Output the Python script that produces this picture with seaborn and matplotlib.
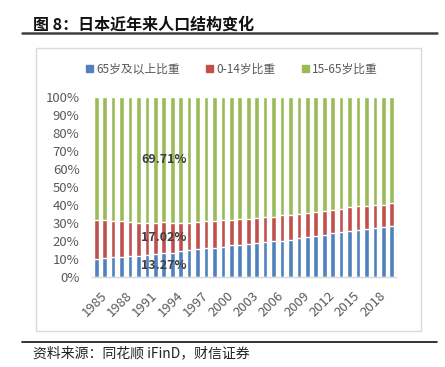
import numpy as np
import pandas as pd
import matplotlib
matplotlib.use("Agg")
import matplotlib.pyplot as plt
import matplotlib.transforms as mtransforms
import seaborn as sns
from matplotlib.patches import Patch
from matplotlib.lines import Line2D

# ------------------------------------------------------------
# Données
# ------------------------------------------------------------
years = list(range(1985, 2021))

# part des 65 ans et plus (%)
share_65 = [10.2, 10.3, 11.0, 11.0, 11.5, 11.6, 12.2, 13.0, 13.27, 13.5,
            14.3, 14.8, 15.6, 15.9, 16.0, 16.7, 17.6, 17.6, 18.1, 18.9,
            19.4, 20.0, 20.1, 20.7, 21.5, 22.0, 22.8, 23.5, 24.3, 24.8,
            25.6, 26.1, 26.7, 27.4, 27.6, 28.1]

# part des 0-14 ans (%)
share_0_14 = [21.3, 21.2, 19.9, 19.9, 18.9, 18.6, 18.0, 17.2, 17.02, 16.7,
              15.9, 15.4, 15.0, 15.0, 15.0, 14.8, 13.9, 14.4, 13.9, 13.9,
              14.1, 13.5, 14.2, 13.6, 13.3, 13.4, 13.3, 13.4, 13.1, 13.2,
              13.1, 13.3, 12.9, 12.8, 12.6, 12.8]

series_names = ["65岁及以上比重", "0-14岁比重", "15-65岁比重"]
colors = ["#4F81BD", "#C0504D", "#9BBB59"]

df = pd.DataFrame({"year": years, "s65": share_65, "s014": share_0_14})
df["s1565"] = 100 - df["s65"] - df["s014"]
df["cum_red"] = df["s65"] + df["s014"]
df["cum_all"] = 100.0

# ------------------------------------------------------------
# Figure
# ------------------------------------------------------------
sns.set_theme(style="white")
plt.rcParams["font.family"] = ["Noto Sans CJK SC", "DejaVu Sans"]

fig = plt.figure(figsize=(4.45, 3.67), dpi=100)
W, H = 445, 367

def fx(px):
    return px / W

def fy(py):
    return 1 - py / H

# titre + filets
fig.text(fx(33), fy(25), "图 8：日本近年来人口结构变化", fontsize=11.5,
         fontweight="bold", color="#111111", va="center", ha="left")
fig.add_artist(Line2D([fx(22), fx(437)], [fy(32.5), fy(32.5)], color="#404040", lw=1.8))
fig.add_artist(Line2D([fx(22), fx(437)], [fy(341.5), fy(341.5)], color="#111111", lw=1.2))
fig.text(fx(33), fy(353), "资料来源：同花顺 iFinD，财信证券", fontsize=10,
         color="#222222", va="center", ha="left")

# cadre du graphique
frame = plt.Rectangle((fx(36), fy(331)), fx(421) - fx(36), fy(48) - fy(331),
                      transform=fig.transFigure, fill=False, ec="#D9D9D9", lw=1)
fig.add_artist(frame)

ax = fig.add_axes([fx(92), fy(277), fx(396) - fx(92), fy(97) - fy(277)])

bw = 0.55
sns.barplot(data=df, x="year", y="cum_all", color=colors[2], width=bw,
            saturation=1, ax=ax)
sns.barplot(data=df, x="year", y="cum_red", color=colors[1], width=bw,
            saturation=1, ax=ax)
sns.barplot(data=df, x="year", y="s65", color=colors[0], width=bw,
            saturation=1, ax=ax)

ax.set_ylim(0, 100)
ax.set_xlim(-0.5, len(years) - 0.5)
ax.set_yticks(np.arange(0, 101, 10))
ax.set_yticklabels([f"{v}%" for v in range(0, 101, 10)], fontsize=9.5, color="#595959")
tick_pos = list(range(0, len(years), 3))
ax.set_xticks(tick_pos)
ax.set_xticklabels([str(years[i]) for i in tick_pos], rotation=45, ha="right",
                   rotation_mode="anchor", fontsize=9.5, color="#595959")
ax.tick_params(axis="y", length=0, pad=9)
ax.tick_params(axis="x", length=0, pad=9)
shift = mtransforms.ScaledTranslation(4 / 100, 0, fig.dpi_scale_trans)
for lbl in ax.get_xticklabels():
    lbl.set_transform(lbl.get_transform() + shift)
ax.set_xlabel("")
ax.set_ylabel("")
for s in ["top", "right", "left"]:
    ax.spines[s].set_visible(False)
ax.spines["bottom"].set_color("#D9D9D9")
ax.spines["bottom"].set_linewidth(1)

# étiquettes de données (1993)
i = years.index(1993)
b, r = share_65[i], share_0_14[i]
g = 100 - b - r
lab_kw = dict(ha="center", va="center", fontsize=9, fontweight="bold", color="#404040")
ax.text(i, b / 2, f"{b:.2f}%", **lab_kw)
ax.text(i, b + r / 2, f"{r:.2f}%", **lab_kw)
ax.text(i, b + r + g / 2, f"{g:.2f}%", **lab_kw)

# légende
handles = [Patch(color=c, label=n) for c, n in zip(colors, series_names)]
fig.legend(handles=handles, loc="center", bbox_to_anchor=(fx(232), fy(69)),
           ncol=3, frameon=False, fontsize=8.5, handlelength=0.6, handleheight=0.6,
           handletextpad=0.3, columnspacing=2.2, labelcolor="#595959")

fig.savefig("out.png", dpi=100)
